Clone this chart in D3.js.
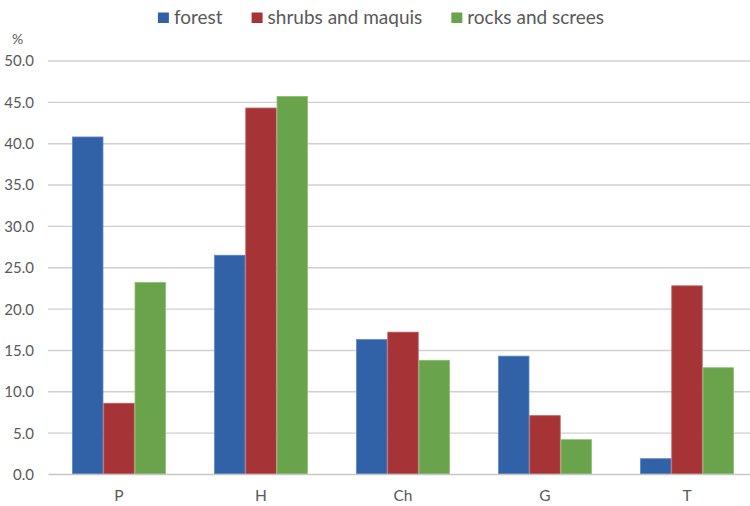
<!DOCTYPE html>
<html>
<head>
<meta charset="utf-8">
<script src="https://cdn.jsdelivr.net/npm/d3@7"></script>
<style>
  html, body { margin: 0; padding: 0; background: #ffffff; }
  svg { display: block; }
  text { font-family: Lato, "Open Sans", sans-serif; fill: #595959; }
</style>
</head>
<body>
<svg id="chart" width="750" height="506"></svg>
<script>
// Life-form spectrum (%) per habitat type
const categories = ["P", "H", "Ch", "G", "T"];
const seriesNames = ["forest", "shrubs and maquis", "rocks and screes"];
const forest = [40.8, 26.5, 16.3, 14.3, 1.9];
const shrubs = [8.6, 44.3, 17.2, 7.1, 22.8];
const rocks = [23.2, 45.7, 13.8, 4.2, 12.9];
const yTicks = [0, 5, 10, 15, 20, 25, 30, 35, 40, 45, 50];
const colors = ["#3162a8", "#a63436", "#69a34c"];
const edges = ["#5a86c4", "#c0595b", "#8cbf70"];

const seriesValues = [forest, shrubs, rocks];

const svg = d3.select("#chart");
const W = 750, H = 506;
const margin = { left: 48, right: -8, top: 60.5, bottom: 32 };
const plotW = W - margin.left - margin.right;
const plotH = H - margin.top - margin.bottom;

const x0 = d3.scaleBand()
  .domain(categories)
  .range([0, plotW])
  .paddingInner(0.34)
  .paddingOuter(0.17);

const x1 = d3.scaleBand()
  .domain(seriesNames)
  .range([0, x0.bandwidth()]);

const y = d3.scaleLinear().domain([0, 50]).range([plotH, 0]);

const g = svg.append("g").attr("transform", `translate(${margin.left},${margin.top})`);

// horizontal gridlines
const grid = g.append("g")
  .call(d3.axisLeft(y).tickValues(yTicks.slice(1)).tickSize(-plotW).tickFormat(""));
grid.select(".domain").remove();
grid.selectAll("line").attr("stroke", "#d0d0d0").attr("stroke-width", 1.4);

// y tick labels
const yAxis = g.append("g")
  .call(d3.axisLeft(y).tickValues(yTicks).tickSize(0).tickPadding(14).tickFormat(d3.format(".1f")));
yAxis.select(".domain").remove();
yAxis.selectAll("text")
  .style("font-size", "15px")
  .attr("fill", "#595959")
  .attr("dy", "0.36em");

// unit label
g.append("text")
  .attr("x", -30.5)
  .attr("y", -16.5)
  .attr("text-anchor", "middle")
  .style("font-size", "14px")
  .text("%");

// bars
const rows = categories.map((c, i) => ({
  cat: c,
  vals: seriesNames.map((s, k) => ({ s, k, v: seriesValues[k][i] }))
}));

const groups = g.selectAll(".grp")
  .data(rows)
  .join("g")
  .attr("class", "grp")
  .attr("transform", d => `translate(${x0(d.cat)},0)`);

groups.selectAll("rect")
  .data(d => d.vals)
  .join("rect")
  .attr("x", d => x1(d.s) + 0.4)
  .attr("width", x1.bandwidth() - 0.8)
  .attr("y", d => y(d.v) + 0.4)
  .attr("height", d => y(0) - y(d.v) - 0.4)
  .attr("fill", d => colors[d.k])
  .attr("stroke", d => edges[d.k])
  .attr("stroke-width", 0.8);

// category axis
const xAxis = g.append("g")
  .attr("transform", `translate(0,${plotH})`)
  .call(d3.axisBottom(x0).tickSize(0).tickPadding(16));
xAxis.select(".domain").attr("stroke", "#c6c6c6").attr("stroke-width", 1.4);
xAxis.selectAll("text")
  .style("font-size", "15.5px")
  .attr("fill", "#595959");

// legend
const legend = svg.append("g");
const items = legend.selectAll("g")
  .data(seriesNames)
  .join("g");
items.append("rect")
  .attr("width", 11)
  .attr("height", 10.5)
  .attr("y", 12.5)
  .attr("fill", (d, i) => colors[i]);
items.append("text")
  .attr("x", 16)
  .attr("y", 24)
  .style("font-size", "19px")
  .attr("fill", "#404040")
  .text(d => d);

const gap = 29;
const widths = items.nodes().map(n =>
  16 + d3.select(n).select("text").node().getComputedTextLength());
const total = d3.sum(widths) + gap * (widths.length - 1);
let cursor = 381 - total / 2;
items.each(function (d, i) {
  d3.select(this).attr("transform", `translate(${cursor},0)`);
  cursor += widths[i] + gap;
});
</script>
</body>
</html>
